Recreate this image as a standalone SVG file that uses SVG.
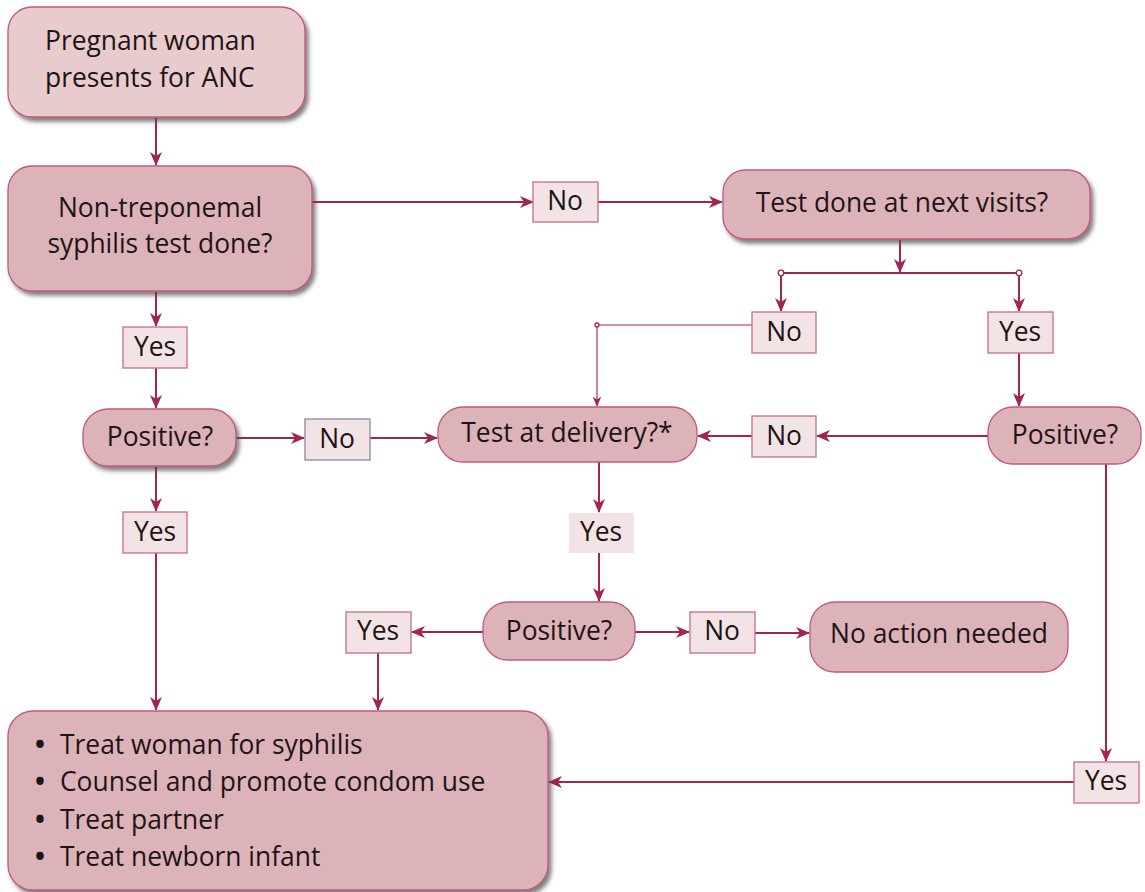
<svg xmlns="http://www.w3.org/2000/svg" width="1145" height="892" viewBox="0 0 1145 892">
<style>
text{font-family:"Open Sans","Noto Sans",sans-serif;font-size:26.4px;fill:#1e1416}
.c{text-anchor:middle}
.b{font-weight:700}
.node{fill:#dcb3b8;stroke:#c4587d;stroke-width:1.3}
.light{fill:#e8cbcd}
.lbl{fill:#f2e3e5;stroke:#c86b8b;stroke-width:1.3}
.ln{fill:none;stroke:#a3254f;stroke-width:2}
.thin{fill:none;stroke:#a3254f;stroke-width:1.1}
.dot{fill:#fff;stroke:#a3254f;stroke-width:1.3}
</style>
<defs>
<filter id="sh" x="-10%" y="-10%" width="130%" height="140%">
<feDropShadow dx="3" dy="4" stdDeviation="2" flood-color="#4a4a4a" flood-opacity="0.7"/>
</filter>
<marker id="ar" viewBox="0 0 14 12" refX="13" refY="6" markerWidth="14" markerHeight="12" markerUnits="userSpaceOnUse" orient="auto">
<path d="M0,0 L14,6 L0,12 L4,6 z" fill="#a3254f"/>
</marker>
<marker id="ars" viewBox="0 0 14 12" refX="13" refY="6" markerWidth="10" markerHeight="9" markerUnits="userSpaceOnUse" orient="auto">
<path d="M0,0 L14,6 L0,12 L4,6 z" fill="#a3254f"/>
</marker>
</defs>

<g id="connectors">
<line class="ln" x1="156" y1="118" x2="156" y2="165" marker-end="url(#ar)"/>
<line class="ln" x1="312" y1="202" x2="533" y2="202" marker-end="url(#ar)"/>
<line class="ln" x1="598" y1="202" x2="722" y2="202" marker-end="url(#ar)"/>
<line class="ln" x1="900" y1="240" x2="900" y2="272" marker-end="url(#ar)"/>
<line class="ln" x1="781" y1="273" x2="1019" y2="273"/>
<line class="ln" x1="781" y1="273" x2="781" y2="311" marker-end="url(#ar)"/>
<line class="ln" x1="1019" y1="273" x2="1019" y2="311" marker-end="url(#ar)"/>
<polyline class="thin" points="752,325 597,325 597,406" marker-end="url(#ars)"/>
<line class="ln" x1="1019" y1="353" x2="1019" y2="406" marker-end="url(#ar)"/>
<line class="ln" x1="988" y1="436" x2="817" y2="436" marker-end="url(#ar)"/>
<line class="ln" x1="752" y1="436" x2="698" y2="436" marker-end="url(#ar)"/>
<line class="ln" x1="156" y1="292" x2="156" y2="326" marker-end="url(#ar)"/>
<line class="ln" x1="156" y1="368" x2="156" y2="408" marker-end="url(#ar)"/>
<line class="ln" x1="236" y1="438" x2="304" y2="438" marker-end="url(#ar)"/>
<line class="ln" x1="370" y1="438" x2="437" y2="438" marker-end="url(#ar)"/>
<line class="ln" x1="156" y1="467" x2="156" y2="511" marker-end="url(#ar)"/>
<line class="ln" x1="156" y1="553" x2="156" y2="710" marker-end="url(#ar)"/>
<line class="ln" x1="599" y1="462" x2="599" y2="512" marker-end="url(#ar)"/>
<line class="ln" x1="599" y1="553" x2="599" y2="601" marker-end="url(#ar)"/>
<line class="ln" x1="483" y1="632" x2="412" y2="632" marker-end="url(#ar)"/>
<line class="ln" x1="378" y1="653" x2="378" y2="710" marker-end="url(#ar)"/>
<line class="ln" x1="635" y1="632" x2="689" y2="632" marker-end="url(#ar)"/>
<line class="ln" x1="755" y1="633" x2="809" y2="633" marker-end="url(#ar)"/>
<line class="ln" x1="1106" y1="464" x2="1106" y2="761" marker-end="url(#ar)"/>
<line class="ln" x1="1074" y1="782" x2="549" y2="782" marker-end="url(#ar)"/>
<circle class="dot" cx="781" cy="273" r="2.8"/>
<circle class="dot" cx="1019" cy="273" r="2.8"/>
<circle class="dot" cx="597" cy="325" r="2"/>
</g>

<g id="n-start">
<rect class="node light" x="8" y="7" width="297" height="110" rx="24" filter="url(#sh)"/>
<text x="45" y="50">Pregnant woman</text>
<text x="45" y="87">presents for ANC</text>
</g>

<g id="n-test">
<rect class="node" x="8" y="166" width="304" height="125" rx="24" filter="url(#sh)"/>
<text class="c" x="160" y="217">Non-treponemal</text>
<text class="c" x="160" y="253">syphilis test done?</text>
</g>

<g id="l-no1">
<rect class="lbl" x="533" y="182" width="65" height="40"/>
<text class="c" x="565" y="210">No</text>
</g>

<g id="n-next">
<rect class="node" x="723" y="170" width="367" height="69" rx="22" filter="url(#sh)"/>
<text class="c" x="902" y="212">Test done at next visits?</text>
</g>

<g id="l-no2">
<rect class="lbl" x="752" y="312" width="64" height="41"/>
<text class="c" x="784" y="341">No</text>
</g>

<g id="l-yes2">
<rect class="lbl" x="988" y="312" width="65" height="41"/>
<text class="c" x="1020" y="341">Yes</text>
</g>

<g id="n-pos-right">
<rect class="node" x="988" y="407" width="153" height="57" rx="25"/>
<text class="c" x="1065" y="444">Positive?</text>
</g>

<g id="l-no3">
<rect class="lbl" x="752" y="416" width="64" height="41"/>
<text class="c" x="784" y="445">No</text>
</g>

<g id="n-delivery">
<rect class="node" x="438" y="407" width="259" height="55" rx="25"/>
<text class="c" x="567" y="442">Test at delivery?*</text>
</g>

<g id="l-yes1">
<rect class="lbl" x="123" y="327" width="64" height="41"/>
<text class="c" x="155" y="356">Yes</text>
</g>

<g id="n-pos-left">
<rect class="node" x="83" y="409" width="153" height="57" rx="25" filter="url(#sh)"/>
<text class="c" x="160" y="446">Positive?</text>
</g>

<g id="l-no4">
<rect class="lbl" x="305" y="419" width="65" height="41" style="stroke:#8f86a8"/>
<text class="c" x="337" y="448">No</text>
</g>

<g id="l-yes3">
<rect class="lbl" x="123" y="512" width="64" height="41"/>
<text class="c" x="155" y="541">Yes</text>
</g>

<g id="l-yes4">
<rect class="lbl" x="569" y="513" width="65" height="40" style="stroke:none"/>
<text class="c" x="601" y="541">Yes</text>
</g>

<g id="n-pos-mid">
<rect class="node" x="483" y="602" width="152" height="58" rx="25"/>
<text class="c" x="559" y="640">Positive?</text>
</g>

<g id="l-yes5">
<rect class="lbl" x="346" y="612" width="65" height="41"/>
<text class="c" x="378" y="640">Yes</text>
</g>

<g id="l-no5">
<rect class="lbl" x="690" y="612" width="65" height="41"/>
<text class="c" x="722" y="640">No</text>
</g>

<g id="n-noaction">
<rect class="node" x="810" y="602" width="258" height="70" rx="25"/>
<text class="c" x="939" y="643">No action needed</text>
</g>

<g id="l-yes6">
<rect class="lbl" x="1074" y="762" width="65" height="41"/>
<text class="c" x="1106" y="790">Yes</text>
</g>

<g id="n-treat">
<rect class="node" x="8" y="711" width="540" height="179" rx="25" filter="url(#sh)"/>
<text x="35" y="754"><tspan class="b">•</tspan><tspan x="60">Treat woman for syphilis</tspan></text>
<text x="35" y="791"><tspan class="b">•</tspan><tspan x="60">Counsel and promote condom use</tspan></text>
<text x="35" y="829"><tspan class="b">•</tspan><tspan x="60">Treat partner</tspan></text>
<text x="35" y="866"><tspan class="b">•</tspan><tspan x="60">Treat newborn infant</tspan></text>
</g>
</svg>
